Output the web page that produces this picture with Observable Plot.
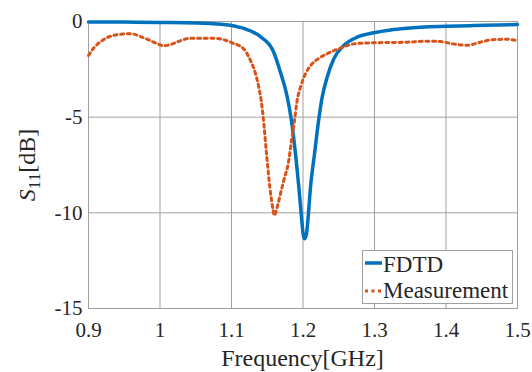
<!DOCTYPE html>
<html>
<head>
<meta charset="utf-8">
<script src="https://cdn.jsdelivr.net/npm/d3@7"></script>
<script src="https://cdn.jsdelivr.net/npm/@observablehq/plot@0.6"></script>
</head>
<body style="margin:0;padding:0;background:#fff">
<div id="wrap" style="position:relative;width:532px;height:372px;font-family:'Liberation Serif';color:#262626">
  <div id="chart"></div>
  <div style="position:absolute;left:88px;width:429px;top:346px;text-align:center;font-size:24px;line-height:24px;font-family:'Liberation Serif'">Frequency[GHz]</div>
  <div style="position:absolute;left:28px;top:165px;transform:translate(-50%,-50%) rotate(-90deg);font-size:24px;line-height:24px;white-space:nowrap;font-family:'Liberation Serif'"><i>S</i><span style="font-size:17px;position:relative;top:5px">11</span>[dB]</div>
  <div style="position:absolute;left:362px;top:250px;width:151px;height:54px;box-sizing:border-box;border:1px solid #a0a0a0;background:#fff;font-size:23px;font-family:'Liberation Serif'">
    <svg style="position:absolute;left:2px;top:9px" width="17" height="6"><line x1="0" x2="17" y1="3" y2="3" stroke="#0072BD" stroke-width="3.5"/></svg>
    <div style="position:absolute;left:20px;top:1px;height:26px;line-height:26px;white-space:nowrap">FDTD</div>
    <svg style="position:absolute;left:2px;top:37px" width="17" height="6"><line x1="0" x2="17" y1="3" y2="3" stroke="#D95319" stroke-width="3" stroke-dasharray="3,3.5"/></svg>
    <div style="position:absolute;left:20px;top:27px;height:26px;line-height:26px;white-space:nowrap">Measurement</div>
  </div>
</div>
<script>
const xTicks = [0.9, 1.0, 1.1, 1.2, 1.3, 1.4, 1.5];
const yTicks = [0, -5, -10, -15];

const fdtdFreq = [0.9, 0.95, 1.0, 1.05, 1.075, 1.1, 1.117, 1.14, 1.158, 1.168, 1.178, 1.1835, 1.1895, 1.1942, 1.1979, 1.2002, 1.2021, 1.2049, 1.2072, 1.2105, 1.2161, 1.2221, 1.2268, 1.2338, 1.2431, 1.2571, 1.2758, 1.299, 1.3224, 1.3457, 1.4016, 1.4389, 1.5];
const fdtdS11 = [-0.02, -0.03, -0.05, -0.08, -0.12, -0.21, -0.36, -0.78, -1.52, -2.6, -3.96, -5.1, -6.92, -8.66, -10.23, -11.1, -11.36, -11.1, -10.23, -8.66, -6.92, -5.1, -3.96, -2.91, -1.95, -1.25, -0.82, -0.59, -0.44, -0.35, -0.25, -0.21, -0.16];

const measFreq = [0.9, 0.907, 0.921, 0.938, 0.959, 0.977, 0.997, 1.005, 1.015, 1.029, 1.043, 1.071, 1.089, 1.101, 1.117, 1.1266, 1.1336, 1.1382, 1.1415, 1.1443, 1.149, 1.1536, 1.1583, 1.1597, 1.1639, 1.1685, 1.1731, 1.1801, 1.1839, 1.1881, 1.1918, 1.1965, 1.2035, 1.2128, 1.2245, 1.2385, 1.2524, 1.271, 1.29, 1.346, 1.374, 1.392, 1.41, 1.43, 1.448, 1.466, 1.486, 1.5];
const measS11 = [-1.78, -1.4, -0.95, -0.7, -0.64, -0.85, -1.17, -1.27, -1.2, -1.0, -0.87, -0.87, -0.95, -1.12, -1.43, -2.04, -2.73, -3.43, -4.13, -5.0, -6.92, -8.66, -9.88, -10.14, -9.7, -9.0, -8.3, -7.27, -6.22, -5.17, -4.13, -3.43, -2.73, -2.21, -1.87, -1.6, -1.39, -1.17, -1.12, -1.08, -1.03, -1.05, -1.17, -1.24, -1.08, -0.95, -0.93, -1.0];

const fmt = d => String(+d.toFixed(1));

const chart = Plot.plot({
  width: 532,
  height: 372,
  marginLeft: 88,
  marginRight: 15,
  marginTop: 21,
  marginBottom: 64,
  style: { fontFamily: "Liberation Serif", fontSize: "21px", color: "#262626", background: "white" },
  x: { domain: [0.9, 1.5] },
  y: { domain: [-15, 0] },
  marks: [
    Plot.gridX(xTicks, { stroke: "#a0a0a0", strokeOpacity: 1 }),
    Plot.gridY(yTicks, { stroke: "#a0a0a0", strokeOpacity: 1 }),
    Plot.frame({ stroke: "#a0a0a0" }),
    Plot.axisX(xTicks, { tickSize: 0, tickPadding: 14, tickFormat: fmt, fontSize: 21, label: null }),
    Plot.axisY(yTicks, { tickSize: 0, tickPadding: 6, tickFormat: fmt, fontSize: 21, label: null }),
    Plot.line(fdtdS11, { x: fdtdFreq, y: fdtdS11, stroke: "#0072BD", strokeWidth: 3.5, curve: "monotone-x" }),
    Plot.line(measS11, { x: measFreq, y: measS11, stroke: "#D95319", strokeWidth: 3, strokeDasharray: "3,3.7", curve: "monotone-x" })
  ]
});
document.getElementById("chart").appendChild(chart);
</script>
</body>
</html>
